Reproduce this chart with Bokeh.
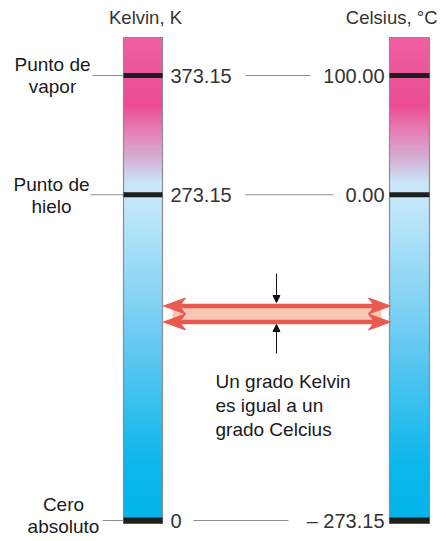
import numpy as np
from bokeh.plotting import figure
from bokeh.models import Range1d, Arrow, NormalHead
from bokeh.core.properties import value
from bokeh.embed import file_html
from bokeh.resources import INLINE

# ---------------- data ----------------
kelvin_vals = [373.15, 273.15, 0.0]
celsius_vals = [100.00, 0.00, -273.15]
kelvin_labels = ["373.15", "273.15", "0"]
celsius_labels = ["100.00", "0.00", "\u2013 273.15"]
point_names = ["Punto de\nvapor", "Punto de\nhielo", "Cero\nabsoluto"]
scale_titles = ["Kelvin, K", "Celsius, \u00b0C"]
note_text = "Un grado Kelvin\nes igual a un\ngrado Celcius"

# ---------------- layout (reference pixel space) ----------------
PX_PER_K = 1.1926     # vertical pixels per kelvin in the drawing
REF_PX = 75.0         # pixel row of the steam point
REF_K = 373.15
W, H = 447, 541


def ky(py):
    """reference pixel row -> kelvin coordinate"""
    return REF_K - (py - REF_PX) / PX_PER_K


def c_to_k(c):
    return c + 273.15


FONT = value("Liberation Sans")

K_X0, K_X1 = 123, 162      # kelvin thermometer
C_X0, C_X1 = 389, 429      # celsius thermometer
TUBE_TOP, TUBE_BOT = 37, 523

grad_stops = [
    (37, (238, 96, 163)),
    (105, (236, 76, 147)),
    (130, (229, 126, 180)),
    (160, (212, 180, 218)),
    (183, (201, 230, 247)),
    (210, (190, 230, 249)),
    (330, (112, 204, 243)),
    (460, (14, 183, 236)),
    (525, (0, 180, 234)),
]


def grad_rgb(py):
    for (y0, c0), (y1, c1) in zip(grad_stops[:-1], grad_stops[1:]):
        if y0 <= py <= y1:
            t = (py - y0) / (y1 - y0)
            return [round(a + (b - a) * t) for a, b in zip(c0, c1)]
    return list(grad_stops[-1][1] if py > grad_stops[-1][0] else grad_stops[0][1])


p = figure(width=W, height=H, output_backend="svg", toolbar_location=None,
           x_range=Range1d(0, W), y_range=Range1d(ky(H), ky(0)),
           min_border=0)
p.axis.visible = False
p.grid.visible = False
p.outline_line_color = None
p.background_fill_color = "white"
p.border_fill_color = "white"

# gradient tubes (image, row 0 at the bottom)
n = TUBE_BOT - TUBE_TOP
img = np.zeros((n, 2), dtype=np.uint32)
view = img.view(dtype=np.uint8).reshape((n, 2, 4))
for i in range(n):
    py = TUBE_BOT - i - 0.5
    r, g, b = grad_rgb(py)
    view[i, :, 0] = r
    view[i, :, 1] = g
    view[i, :, 2] = b
    view[i, :, 3] = 255
for x0, x1 in [(K_X0, K_X1), (C_X0, C_X1)]:
    p.image_rgba(image=[img], x=x0, y=ky(TUBE_BOT), dw=x1 - x0,
                 dh=ky(TUBE_TOP) - ky(TUBE_BOT))
    p.quad(left=[x0], right=[x1], top=[ky(TUBE_TOP)], bottom=[ky(TUBE_BOT)],
           fill_color=None, line_color="#8c8c8c", line_width=1.2)

# fixed point bars
bar_h = [5, 5, 6]
p.rect(x=[(K_X0 + K_X1) / 2] * 3, y=kelvin_vals, width=K_X1 - K_X0, height=bar_h,
       height_units="screen", fill_color="#1e1e1e", line_color=None)
p.rect(x=[(C_X0 + C_X1) / 2] * 3, y=[c_to_k(c) for c in celsius_vals],
       width=C_X1 - C_X0, height=bar_h, height_units="screen",
       fill_color="#1e1e1e", line_color=None)

# leader lines
left_lead = [92, 90, 102]
mid_lead = [(245, 310), (245, 333), (193, 288)]
for i, k in enumerate(kelvin_vals):
    p.line([left_lead[i], K_X0], [k, k], line_color="#909090", line_width=1.2)
    p.line(list(mid_lead[i]), [k, k], line_color="#909090", line_width=1.2)

# labels (name blocks, with small vertical nudges in pixels)
name_x = [52, 51, 63]
name_dy = [0, 1, -5]
name_y = [ky((REF_K - k) * PX_PER_K + REF_PX + d) for k, d in zip(kelvin_vals, name_dy)]
p.text(x=name_x, y=name_y, text=point_names, text_font=FONT,
       text_font_size="19px", text_align="center", text_baseline="middle",
       text_line_height=1.04, text_color="#1a1a1a")
p.text(x=[170] * 3, y=kelvin_vals, text=kelvin_labels, text_font=FONT,
       text_font_size="20px", text_align="left", text_baseline="middle",
       text_color="#333333")
p.text(x=[384] * 3, y=[c_to_k(c) for c in celsius_vals], text=celsius_labels,
       text_font=FONT, text_font_size="20px", text_align="right",
       text_baseline="middle", text_color="#333333")

# titles
p.text(x=[145, 437], y=[ky(17), ky(17)], text=scale_titles, text_font=FONT,
       text_font_size="18.5px", text_align=["center", "right"],
       text_baseline="middle", text_color="#333333")

# red double arrows
ARROW_RED = "#e85a4e"
y_top, y_bot = 305.5, 321.5
p.quad(left=[172], right=[381], top=[ky(y_top)], bottom=[ky(y_bot)],
       fill_color="#f9c6b6", line_color=None)
for yy in (y_top, y_bot):
    p.line([178, 375], [ky(yy), ky(yy)], line_color=ARROW_RED, line_width=4.5)
    p.patch([163, 185, 179, 185], [ky(yy), ky(yy - 8), ky(yy), ky(yy + 8)],
            fill_color=ARROW_RED, line_color=ARROW_RED, line_width=1)
    p.patch([390, 368, 374, 368], [ky(yy), ky(yy - 8), ky(yy), ky(yy + 8)],
            fill_color=ARROW_RED, line_color=ARROW_RED, line_width=1)

# small black arrows
for ys, ye in [(273, 302), (353, 324)]:
    p.add_layout(Arrow(end=NormalHead(size=7, fill_color="#111111", line_color="#111111"),
                       x_start=276, y_start=ky(ys), x_end=276, y_end=ky(ye),
                       line_color="#111111", line_width=1))

# note
p.text(x=[215], y=[ky(405)], text=[note_text], text_font=FONT,
       text_font_size="19px", text_align="left", text_baseline="middle",
       text_line_height=1.12, text_color="#1a1a1a")

open("out.html", "w").write(file_html(p, INLINE))
